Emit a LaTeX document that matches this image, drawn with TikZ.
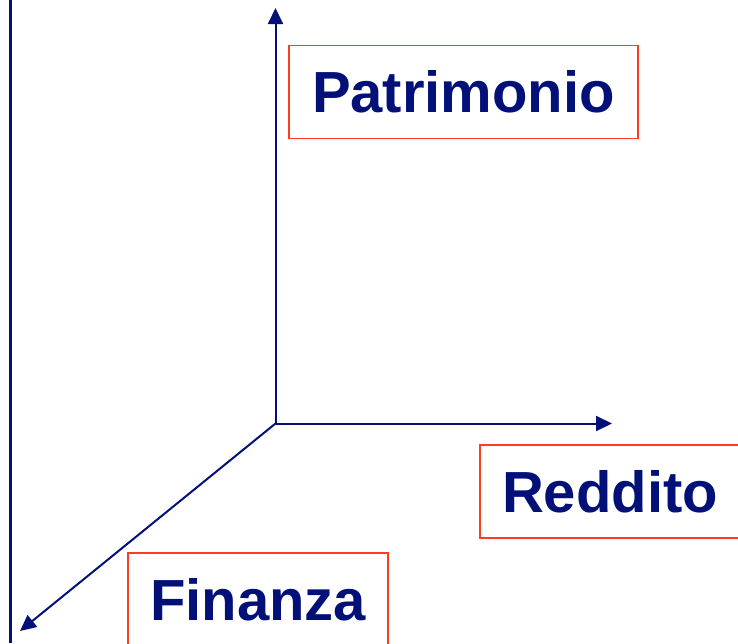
\documentclass[tikz,border=0pt]{standalone}
\usepackage{fontspec}
\setmainfont{Liberation Sans}
\usetikzlibrary{arrows.meta}
\definecolor{navy}{RGB}{2,16,120}
\definecolor{boxred}{RGB}{255,60,30}
\begin{document}
\begin{tikzpicture}[x=1pt,y=-1pt,
  axis/.style={draw=navy,line width=2pt,-{Triangle[length=16pt,width=15pt]}},
  labelbox/.style={draw=boxred,line width=1.8pt,text=navy,font=\bfseries\fontsize{58}{60}\selectfont,
    inner sep=0pt,minimum height=93pt}]
\useasboundingbox (0,0) rectangle (738,643);
\coordinate (ltop) at (10.5,0);
\coordinate (lbot) at (10.5,643);
\draw[navy,line width=2.2pt] (ltop) -- (lbot);
\coordinate (o) at (275.5,423.5);
\coordinate (up) at (275.5,8);
\coordinate (right) at (612,423.5);
\coordinate (diag) at (20,631);
\draw[axis] (o) -- (up);
\draw[axis] (o) -- (right);
\draw[axis] (o) -- (diag);
\node[labelbox,minimum width=349pt] (patr) at (463.5,92) {Patrimonio};
\node[labelbox,minimum width=260pt] (redd) at (610,491.5) {Reddito};
\node[labelbox,minimum width=260pt] (fin) at (258,599.5) {Finanza};
\end{tikzpicture}
\end{document}
